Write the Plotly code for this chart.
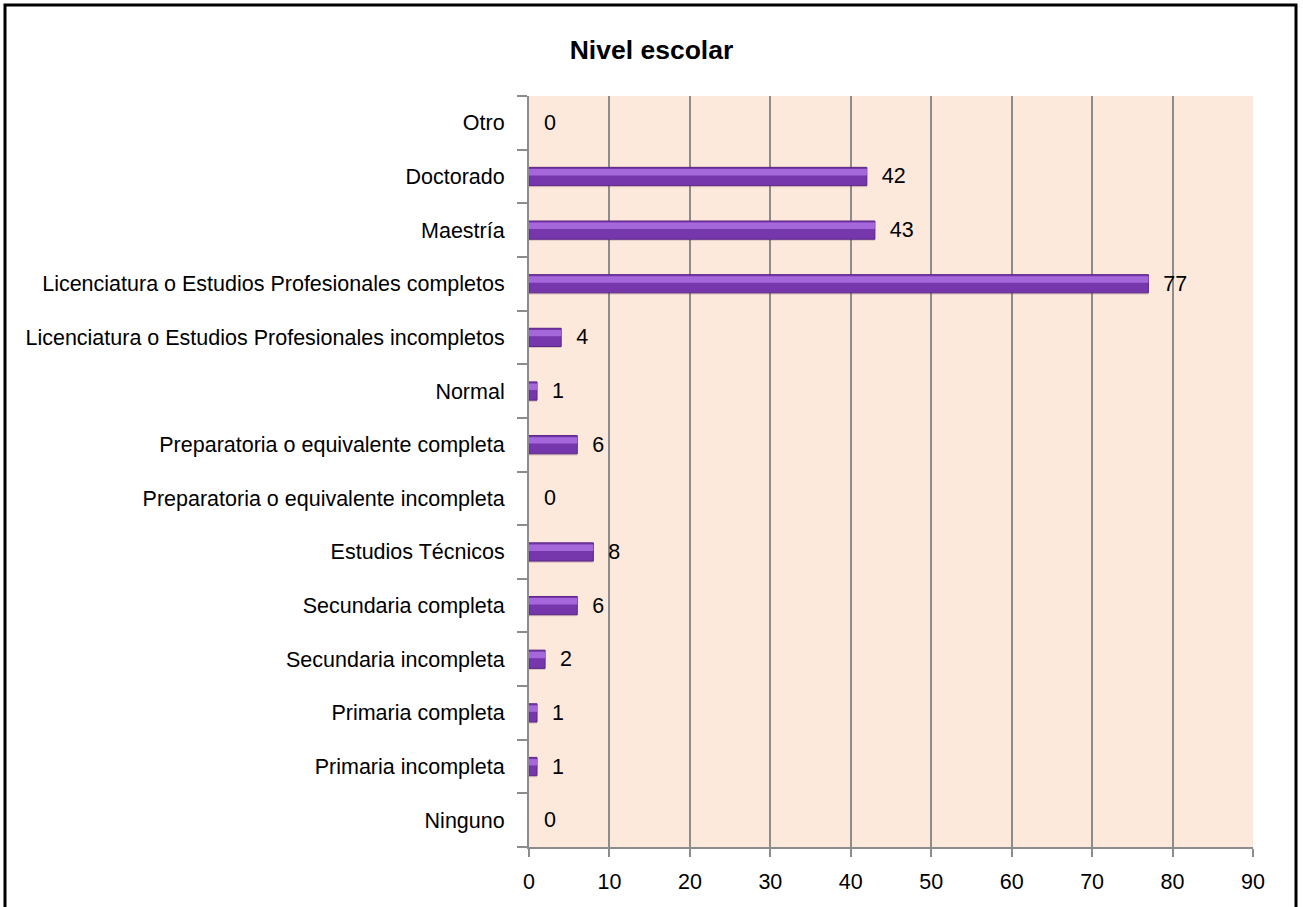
import plotly.graph_objects as go

categories = [
    "Ninguno",
    "Primaria incompleta",
    "Primaria completa",
    "Secundaria incompleta",
    "Secundaria completa",
    "Estudios Técnicos",
    "Preparatoria o equivalente incompleta",
    "Preparatoria o equivalente completa",
    "Normal",
    "Licenciatura o Estudios Profesionales incompletos",
    "Licenciatura o Estudios Profesionales completos",
    "Maestría",
    "Doctorado",
    "Otro",
]
values = [0, 1, 1, 2, 6, 8, 0, 6, 1, 4, 77, 43, 42, 0]
x_ticks = [0, 10, 20, 30, 40, 50, 60, 70, 80, 90]

FONT = "Liberation Sans, Arial, sans-serif"
FS = 21.5

fig = go.Figure()
# soft shadow
fig.add_trace(go.Bar(
    y=categories, x=values, orientation="h",
    width=0.37, offset=-0.2,
    marker=dict(color="rgba(90,60,80,0.22)", line=dict(width=0)),
    hoverinfo="skip", showlegend=False,
))
# main bar
fig.add_trace(go.Bar(
    y=categories, x=values, orientation="h",
    width=0.34, offset=-0.17,
    marker=dict(color="#7636AC",
                line=dict(color="#5E2688", width=[1 if v > 0 else 0 for v in values])),
    text=["\u00a0\u00a0" + str(v) for v in values], textposition="outside",
    constraintext="none",
    textfont=dict(family=FONT, size=FS, color="#000000"),
    cliponaxis=False, showlegend=False,
))
# highlight band
fig.add_trace(go.Bar(
    y=categories, x=values, orientation="h",
    width=0.12, offset=0.02,
    marker=dict(color="#A468DA", line=dict(width=0)),
    hoverinfo="skip", showlegend=False,
))

fig.update_layout(
    barmode="overlay",
    width=1303, height=907,
    paper_bgcolor="#FFFFFF",
    plot_bgcolor="#FCE9DB",
    margin=dict(l=529, r=50, t=96, b=60, autoexpand=False),
    title=dict(text="<b>Nivel escolar</b>", x=0.5, xref="container", xanchor="center",
               y=1 - 50 / 907, yref="container", yanchor="middle",
               font=dict(family=FONT, size=26.5, color="#000000")),
    font=dict(family=FONT, size=FS, color="#000000"),
    xaxis=dict(
        range=[0, 90], tickvals=x_ticks, ticktext=[str(t) for t in x_ticks],
        showgrid=True, gridcolor="#8C8C8C", gridwidth=2,
        showline=True, linecolor="#8C8C8C", linewidth=2,
        ticks="outside", ticklen=8, tickcolor="#8C8C8C", tickwidth=2,
        zeroline=False,
        tickfont=dict(family=FONT, size=FS, color="#000000"),
        ticklabelstandoff=6,
    ),
    yaxis=dict(
        type="category", categoryorder="array", categoryarray=categories,
        showgrid=False, showline=True, linecolor="#8C8C8C", linewidth=2,
        ticks="outside", ticklen=10, tickcolor="#8C8C8C", tickwidth=2,
        tickson="boundaries",
        tickfont=dict(family=FONT, size=FS, color="#000000"),
        ticklabelstandoff=18,
    ),
    shapes=[dict(
        type="rect", xref="paper", yref="paper",
        x0=(5 - 529) / 724, x1=(1296 - 529) / 724,
        y0=-(930 - 847) / 751, y1=1 + (96 - 5) / 751,
        line=dict(color="#000000", width=3), fillcolor="rgba(0,0,0,0)",
        layer="above",
    )],
)

fig.write_html("out.html", config={"displayModeBar": False},
               post_script="document.body.style.margin='0';document.body.style.overflow='hidden';")
